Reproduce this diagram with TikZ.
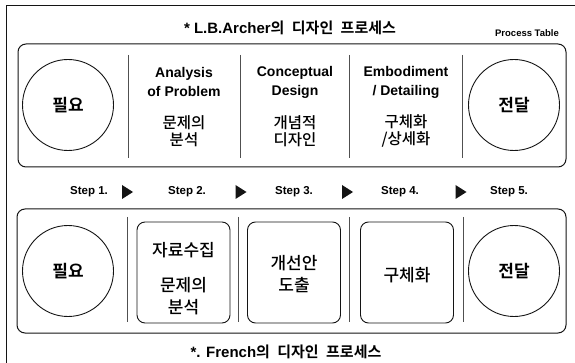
\documentclass[tikz,border=0pt]{standalone}
\usepackage{fontspec}
\setmainfont{Liberation Sans}
\newfontfamily\kr{Noto Sans CJK KR}[BoldFont={Noto Sans CJK KR Bold}]
\newfontfamily\krm{Noto Sans CJK KR Medium}
\usetikzlibrary{positioning}
\definecolor{ink}{RGB}{20,20,20}
\definecolor{sepgray}{RGB}{80,80,80}

\tikzset{
  panel/.style={draw=ink,line width=1pt,rounded corners=8pt},
  stage/.style={circle,draw=ink,line width=0.9pt,minimum size=91pt,inner sep=0pt,
    font=\kr\bfseries\fontsize{17}{18}\selectfont},
  phasebox/.style={draw=ink,line width=0.9pt,rounded corners=8pt,minimum width=93pt,
    minimum height=101pt,inner sep=0pt},
  eng/.style={font=\bfseries\fontsize{14}{19}\selectfont,align=center},
  kor/.style={font=\krm\fontsize{15.5}{17}\selectfont,align=center},
  korbig/.style={font=\krm\fontsize{17}{22}\selectfont,align=center},
  steplabel/.style={font=\bfseries\fontsize{11.5}{12}\selectfont},
  sep/.style={sepgray,line width=0.7pt},
  heading/.style={font=\bfseries\fontsize{15}{16}\selectfont},
}

\begin{document}
\begin{tikzpicture}[x=1pt,y=-1pt]
  \useasboundingbox (0,0) rectangle (575,363);
  \draw[ink,line width=0.6pt] (6,363) -- (6,5) -- (575,5);

  % titles
  \node[heading] (archer) at (290,28) {* L.B.Archer{\kr 의\hspace{4pt} 디자인\hspace{4pt} 프로세스}};
  \node[font=\bfseries\fontsize{9.5}{10}\selectfont] (ptable) at (527,33) {Process Table};
  \node[heading] (french) at (286,352) {*. French{\kr 의\hspace{4pt} 디자인\hspace{4pt} 프로세스}};

  % L.B.Archer
  \draw[panel] (18,44) rectangle (566,167);
  \foreach \x in {128,240,349,462} \draw[sep] (\x,55) -- (\x,158);
  \node[stage] (needA) at (68,105) {필요};
  \node[stage] (sendA) at (514,105) {전달};
  \node[eng] (anaE) at (184,82) {Analysis\\of Problem};
  \node[eng] (conE) at (295,82) {Conceptual\\Design};
  \node[eng] (embE) at (406,82) {Embodiment\\/ Detailing};
  \node[kor] (anaK) at (184,131) {문제의\\분석};
  \node[kor] (conK) at (295,131) {개념적\\디자인};
  \node[kor] (embK) at (406,131) {구체화\\/상세화};

  % steps
  \node[steplabel] (s1) at (89,192) {Step 1.};
  \node[steplabel] (s2) at (187,192) {Step 2.};
  \node[steplabel] (s3) at (294,192) {Step 3.};
  \node[steplabel] (s4) at (400,192) {Step 4.};
  \node[steplabel] (s5) at (509,192) {Step 5.};
  \foreach \x in {127.5,241,347.5,461}
    \fill[ink] (\x-5.5,185) -- (\x+5.5,192) -- (\x-5.5,199) -- cycle;

  % French
  \draw[panel] (17,209) rectangle (566,333);
  \foreach \x in {127,238,349,463} \draw[sep] (\x,217) -- (\x,322);
  \node[stage] (needF) at (68,271) {필요};
  \node[stage] (sendF) at (514,271) {전달};
  \node[phasebox] (collect) at (183.5,272.5) {};
  \node[phasebox] (improve) at (294,272.5) {};
  \node[phasebox] (concrete) at (407,272.5) {};
  \node[korbig] (collectT) at (183.5,250) {자료수집};
  \node[korbig] (collectB) at (183.5,296) {문제의\\분석};
  \node[korbig] (improveT) at (294,274) {개선안\\도출};
  \node[korbig] (concreteT) at (407,275) {구체화};
\end{tikzpicture}
\end{document}
